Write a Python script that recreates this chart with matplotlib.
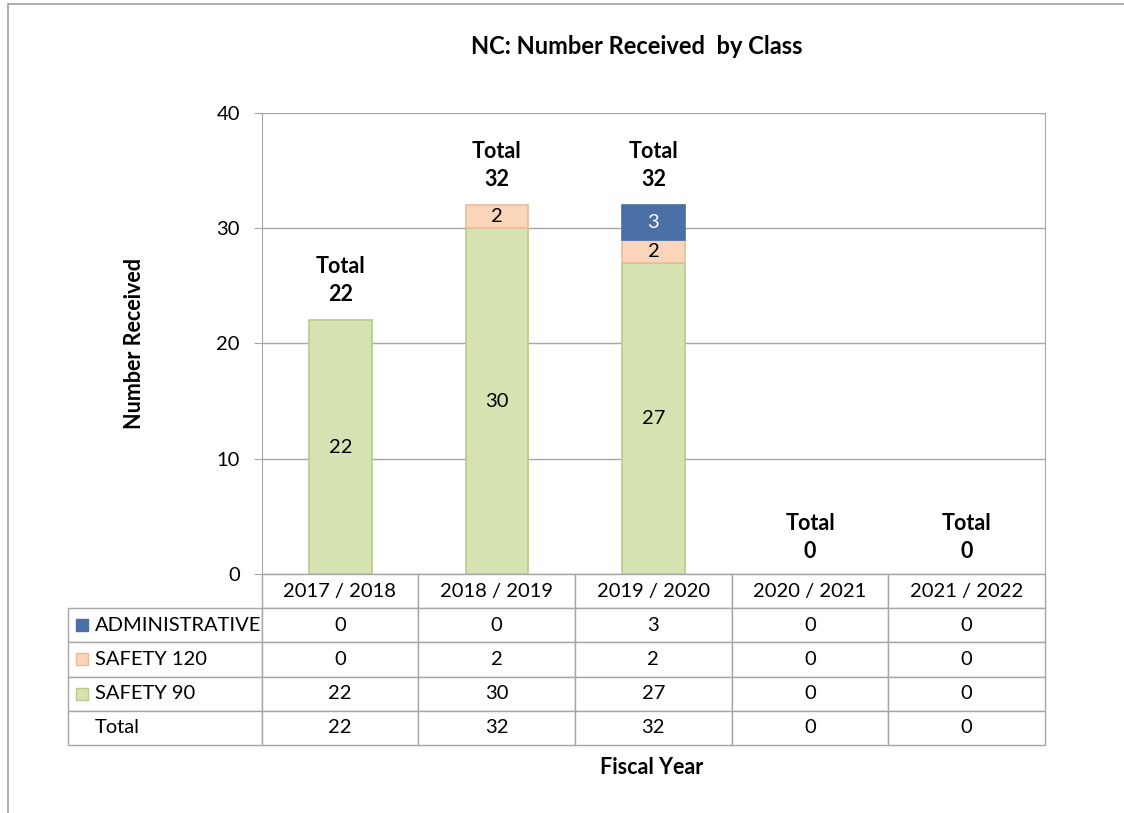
import matplotlib
matplotlib.use("Agg")
import matplotlib.pyplot as plt
from matplotlib.patches import Rectangle
from matplotlib.table import Table

plt.rcParams["font.family"] = ["Lato", "DejaVu Sans"]

years = ["2017 / 2018", "2018 / 2019", "2019 / 2020", "2020 / 2021", "2021 / 2022"]
series_names = ["ADMINISTRATIVE", "SAFETY 120", "SAFETY 90"]
administrative = [0, 0, 3, 0, 0]
safety_120 = [0, 2, 2, 0, 0]
safety_90 = [22, 30, 27, 0, 0]
totals = [a + b + c for a, b, c in zip(administrative, safety_120, safety_90)]

colors = {"ADMINISTRATIVE": "#4A6FA5", "SAFETY 120": "#FAD5BA", "SAFETY 90": "#D5E3B3"}
edges = {"ADMINISTRATIVE": "#4A6FA5", "SAFETY 120": "#E9BC9A", "SAFETY 90": "#B8CB8C"}
grid_col = "#A6A6A6"
fs = 14.5
fs_bold = 15.5

W, H = 1124, 813
fig = plt.figure(figsize=(W / 100, H / 100), dpi=100)
ax = fig.add_axes([262 / W, 1 - 574 / H, (1045 - 262) / W, (574 - 113) / H])

x = list(range(len(years)))
bar_w = 0.4
stack = [("SAFETY 90", safety_90), ("SAFETY 120", safety_120), ("ADMINISTRATIVE", administrative)]
bottom = [0] * len(years)
for name, vals in stack:
    bars = ax.bar(x, vals, bar_w, bottom=bottom, color=colors[name], edgecolor=edges[name],
                  linewidth=1.2, zorder=3)
    for bar, xi, v, b in zip(bars, x, vals, bottom):
        if v == 0:
            bar.set_visible(False)
            continue
        ax.text(xi, b + v / 2, str(v), ha="center", va="center", fontsize=fs,
                color="white" if name == "ADMINISTRATIVE" else "black", zorder=4)
    bottom = [b + v for b, v in zip(bottom, vals)]

for xi, t in zip(x, totals):
    ax.text(xi, t + (1.3 if t > 0 else 1.0), f"Total\n{t}", ha="center", va="bottom",
            fontsize=fs_bold, fontweight="bold", linespacing=1.45)

ax.set_xlim(-0.5, len(years) - 0.5)
ax.set_ylim(0, 40)
ax.set_yticks([0, 10, 20, 30, 40])
ax.set_xticks([])
ax.tick_params(axis="y", direction="out", length=6, color=grid_col, labelsize=fs, pad=10)
ax.yaxis.grid(True, color=grid_col, linewidth=1)
ax.set_axisbelow(True)
for s in ["left", "right"]:
    ax.spines[s].set_color(grid_col)
ax.spines["top"].set_visible(False)
ax.spines["bottom"].set_visible(False)

ax.set_ylabel("Number Received", fontsize=fs_bold, fontweight="bold")
ax.yaxis.set_label_coords(-0.150, 0.5)
ax.text(0.498, -0.4187, "Fiscal Year", transform=ax.transAxes, ha="center", va="center",
        fontsize=fs_bold, fontweight="bold")
fig.text(637 / W, 1 - 47 / H, "NC: Number Received  by Class", ha="center", va="center",
         fontsize=17, fontweight="bold")

# data table below the plot
tbl = Table(ax, bbox=[-0.2478, -0.3709, 1.2478, 0.3709])
label_w, col_w, row_h = 194, 157, 34
rows = [("ADMINISTRATIVE", administrative), ("SAFETY 120", safety_120),
        ("SAFETY 90", safety_90), ("Total", totals)]
for j, yr in enumerate(years):
    c = tbl.add_cell(0, j + 1, col_w, row_h, text=yr, loc="center")
    c.set_edgecolor(grid_col)
for i, (name, vals) in enumerate(rows, start=1):
    c = tbl.add_cell(i, 0, label_w, row_h, text=name, loc="left")
    c.PAD = 0.14
    c.set_edgecolor(grid_col)
    for j, v in enumerate(vals):
        c = tbl.add_cell(i, j + 1, col_w, row_h, text=str(v), loc="center")
        c.set_edgecolor(grid_col)
tbl.auto_set_font_size(False)
tbl.set_fontsize(fs)
ax.add_table(tbl)

# legend keys inside the row labels
h = 0.3709 / 5
for i, name in enumerate(series_names, start=1):
    yc = -(i + 0.5) * h
    ax.add_patch(Rectangle((-0.2375, yc - 0.013), 0.0153, 0.026, transform=ax.transAxes,
                           facecolor=colors[name], edgecolor=edges[name], clip_on=False,
                           zorder=5))

# outer chart border
fig.add_artist(Rectangle((8 / W, -0.1), 1.2, 1 - 4 / H + 0.1, transform=fig.transFigure,
                         fill=False, edgecolor="#A0A0A0", linewidth=1.2))

fig.savefig("out.png", dpi=100)
